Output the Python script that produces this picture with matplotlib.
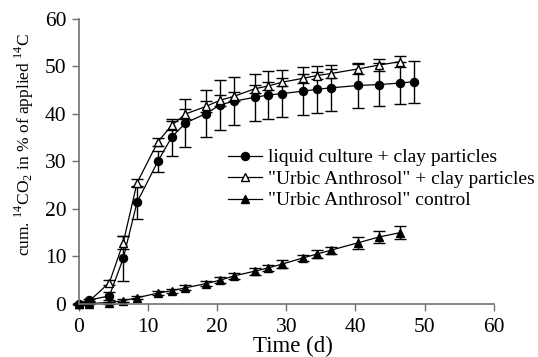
import matplotlib
matplotlib.use('Agg')
import matplotlib.pyplot as plt

plt.rcParams['font.family'] = 'serif'
plt.rcParams['font.serif'] = ['Liberation Serif', 'DejaVu Serif']
plt.rcParams['mathtext.fontset'] = 'custom'
plt.rcParams['mathtext.rm'] = 'Liberation Serif'

# time points (d)
t_ctrl = [0, 1.4, 4.4, 6.4, 8.4, 11.4, 13.4, 15.4, 18.4, 20.4, 22.4, 25.4, 27.4, 29.4,
          32.4, 34.4, 36.4, 40.4, 43.4, 46.4]
t_liq = t_ctrl + [48.4]

# liquid culture + clay particles
liq = [0, 0.8, 1.7, 9.6, 21.4, 30.0, 35.1, 38.1, 40.1, 41.9, 42.7, 43.5, 44.0, 44.3,
       44.8, 45.2, 45.5, 46.0, 46.2, 46.5, 46.8]
liq_err = [0.3, 0.3, 0.8, 4.8, 3.5, 2.2, 3.9, 5.1, 5.0, 5.2, 5.1, 5.0, 5.1, 5.0,
           5.0, 4.9, 4.9, 4.8, 4.5, 4.5, 4.4]

# "Urbic Anthrosol" + clay particles
urb_clay = [0, 0.5, 4.5, 12.9, 25.5, 34.1, 37.6, 40.0, 41.6, 42.9, 43.7, 45.3, 45.9, 46.7,
            47.5, 48.1, 48.5, 49.5, 50.3, 51.0]
urb_clay_err = [0, 0.2, 0.5, 1.4, 0.8, 0.8, 1.0, 1.0, 1.2, 1.2, 1.0, 0.8, 0.8, 0.8,
                0.9, 0.8, 1.0, 1.0, 1.2, 1.2]

# "Urbic Anthrosol" control
urb_ctrl = [0, 0.1, 0.3, 0.7, 1.3, 2.3, 2.8, 3.4, 4.3, 5.0, 5.9, 6.9, 7.6, 8.4,
            9.7, 10.5, 11.3, 12.9, 14.1, 15.0]
urb_ctrl_err = [0, 0.1, 0.2, 0.3, 0.3, 0.4, 0.4, 0.5, 0.6, 0.6, 0.7, 0.7, 0.7, 0.9,
                0.7, 0.8, 0.8, 1.3, 1.3, 1.4]

labels = ['liquid culture + clay particles',
          '"Urbic Anthrosol" + clay particles',
          '"Urbic Anthrosol" control']
ticks = [0, 10, 20, 30, 40, 50, 60]

fig = plt.figure(figsize=(5.38, 3.57), dpi=100)
ax = fig.add_axes([0.1468, 0.1485, 0.7709, 0.7983])

common = dict(color='black', lw=0.9, elinewidth=1.0, capsize=4, capthick=1.0,
              clip_on=False, markeredgecolor='black')
h1 = ax.errorbar(t_liq, liq, yerr=liq_err, fmt='-o', ms=5.8, mfc='black', **common)
h2 = ax.errorbar(t_ctrl, urb_clay, yerr=urb_clay_err, fmt='-^', ms=6.2, mfc='white',
                 mew=1.0, **common)
h3 = ax.errorbar(t_ctrl, urb_ctrl, yerr=urb_ctrl_err, fmt='-^', ms=6.2, mfc='black', **common)
for h in (h1, h2, h3):
    for c in h[1] + h[2]:
        c.set_clip_on(False)

ax.set_xlim(0, 60)
ax.set_ylim(0, 60)
ax.set_xticks(ticks)
ax.set_xticklabels([str(v) for v in ticks], fontfamily='Liberation Serif', fontsize=15.5)
ax.set_yticks(ticks)
ax.set_yticklabels([str(v) for v in ticks], fontfamily='Liberation Serif', fontsize=15.5)
for s in ('top', 'right'):
    ax.spines[s].set_visible(False)
for s in ('left', 'bottom'):
    ax.spines[s].set_color('#707070')
    ax.spines[s].set_linewidth(1.2)
ax.tick_params(direction='out', length=5, width=1.0, color='#707070')
ax.tick_params(axis='x', pad=5)
ax.tick_params(axis='y', pad=4)

fig.text(293 / 538, 1 - 346 / 357, 'Time (d)', ha='center', va='center',
         fontsize=16.5, fontfamily='Liberation Serif')
fig.text(24 / 538, 1 - 144 / 357, r'cum. $^{14}$CO$_2$ in % of applied $^{14}$C',
         rotation=90, ha='center', va='center', fontsize=12.5, fontfamily='Liberation Serif')

ax.legend(handles=[h1[0], h2[0], h3[0]], labels=labels, loc='center left',
          bbox_to_anchor=(228 / 538, 1 - 179 / 357), bbox_transform=fig.transFigure,
          frameon=False, fontsize=14, borderpad=0, borderaxespad=0,
          handlelength=1.75, handletextpad=0.3, labelspacing=0.2,
          prop={'family': 'Liberation Serif', 'size': 14})

fig.savefig('out.png', dpi=100)
